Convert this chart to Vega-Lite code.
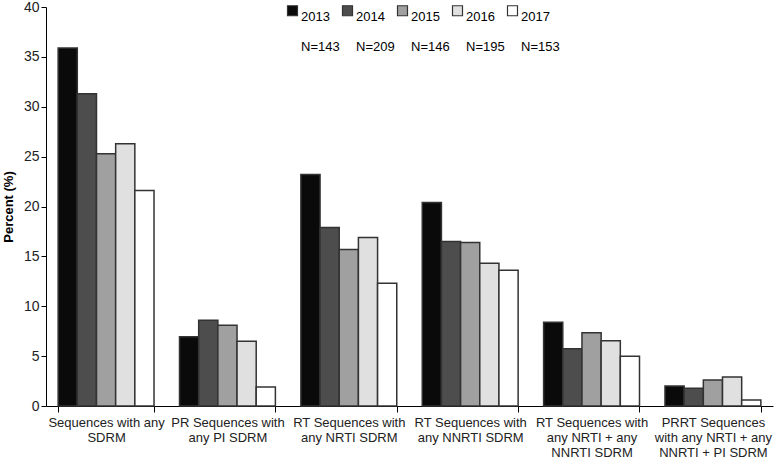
{
  "$schema": "https://vega.github.io/schema/vega-lite/v6.json",
  "autosize": {"type": "none"},
  "padding": {"left": 46, "top": 7, "right": 4, "bottom": 52},
  "width": 727,
  "height": 399,
  "background": "white",
  "config": {
    "view": {"stroke": null},
    "font": "Liberation Sans",
    "axis": {"labelFont": "Liberation Sans", "titleFont": "Liberation Sans", "domainColor": "#000", "tickColor": "#000", "labelColor": "#222", "grid": false}
  },
  "data": {
    "values": [
      {"cat": "Sequences with any SDRM", "year": "2013", "pct": 35.9},
      {"cat": "Sequences with any SDRM", "year": "2014", "pct": 31.3},
      {"cat": "Sequences with any SDRM", "year": "2015", "pct": 25.3},
      {"cat": "Sequences with any SDRM", "year": "2016", "pct": 26.3},
      {"cat": "Sequences with any SDRM", "year": "2017", "pct": 21.6},
      {"cat": "PR Sequences with any PI SDRM", "year": "2013", "pct": 6.95},
      {"cat": "PR Sequences with any PI SDRM", "year": "2014", "pct": 8.6},
      {"cat": "PR Sequences with any PI SDRM", "year": "2015", "pct": 8.1},
      {"cat": "PR Sequences with any PI SDRM", "year": "2016", "pct": 6.5},
      {"cat": "PR Sequences with any PI SDRM", "year": "2017", "pct": 1.9},
      {"cat": "RT Sequences with any NRTI SDRM", "year": "2013", "pct": 23.2},
      {"cat": "RT Sequences with any NRTI SDRM", "year": "2014", "pct": 17.9},
      {"cat": "RT Sequences with any NRTI SDRM", "year": "2015", "pct": 15.7},
      {"cat": "RT Sequences with any NRTI SDRM", "year": "2016", "pct": 16.9},
      {"cat": "RT Sequences with any NRTI SDRM", "year": "2017", "pct": 12.3},
      {"cat": "RT Sequences with any NNRTI SDRM", "year": "2013", "pct": 20.4},
      {"cat": "RT Sequences with any NNRTI SDRM", "year": "2014", "pct": 16.5},
      {"cat": "RT Sequences with any NNRTI SDRM", "year": "2015", "pct": 16.4},
      {"cat": "RT Sequences with any NNRTI SDRM", "year": "2016", "pct": 14.3},
      {"cat": "RT Sequences with any NNRTI SDRM", "year": "2017", "pct": 13.6},
      {"cat": "RT Sequences with any NRTI + any NNRTI SDRM", "year": "2013", "pct": 8.4},
      {"cat": "RT Sequences with any NRTI + any NNRTI SDRM", "year": "2014", "pct": 5.75},
      {"cat": "RT Sequences with any NRTI + any NNRTI SDRM", "year": "2015", "pct": 7.35},
      {"cat": "RT Sequences with any NRTI + any NNRTI SDRM", "year": "2016", "pct": 6.55},
      {"cat": "RT Sequences with any NRTI + any NNRTI SDRM", "year": "2017", "pct": 5.0},
      {"cat": "PRRT Sequences with any NRTI + any NNRTI + PI SDRM", "year": "2013", "pct": 2.0},
      {"cat": "PRRT Sequences with any NRTI + any NNRTI + PI SDRM", "year": "2014", "pct": 1.77},
      {"cat": "PRRT Sequences with any NRTI + any NNRTI + PI SDRM", "year": "2015", "pct": 2.6},
      {"cat": "PRRT Sequences with any NRTI + any NNRTI + PI SDRM", "year": "2016", "pct": 2.9},
      {"cat": "PRRT Sequences with any NRTI + any NNRTI + PI SDRM", "year": "2017", "pct": 0.6}
    ]
  },
  "mark": {"type": "bar", "stroke": "#333", "strokeWidth": 1.5},
  "encoding": {
    "x": {
      "field": "cat",
      "type": "nominal",
      "sort": null,
      "scale": {"paddingInner": 0.21, "paddingOuter": 0.1},
      "axis": {
        "title": null,
        "labelAngle": 0,
        "labelFontSize": 13,
        "labelLimit": 200,
        "labelOverlap": false,
        "tickBand": "extent",
        "tickSize": 6,
        "labelPadding": 4,
        "labelExpr": "datum.value == 'Sequences with any SDRM' ? ['Sequences with any', 'SDRM'] : datum.value == 'PR Sequences with any PI SDRM' ? ['PR Sequences with', 'any PI SDRM'] : datum.value == 'RT Sequences with any NRTI SDRM' ? ['RT Sequences with', 'any NRTI SDRM'] : datum.value == 'RT Sequences with any NNRTI SDRM' ? ['RT Sequences with', 'any NNRTI SDRM'] : datum.value == 'RT Sequences with any NRTI + any NNRTI SDRM' ? ['RT Sequences with', 'any NRTI + any', 'NNRTI SDRM'] : datum.value == 'PRRT Sequences with any NRTI + any NNRTI + PI SDRM' ? ['PRRT Sequences', 'with any NRTI + any', 'NNRTI + PI SDRM'] : ''"
      }
    },
    "xOffset": {"field": "year", "type": "nominal", "scale": {"paddingInner": 0, "paddingOuter": 0}},
    "y": {
      "field": "pct",
      "type": "quantitative",
      "scale": {"domain": [0, 40]},
      "axis": {
        "title": "Percent (%)",
        "titleFontSize": 13,
        "titleFontWeight": "bold",
        "titleColor": "#000",
        "titlePadding": 8,
        "values": [0, 5, 10, 15, 20, 25, 30, 35, 40],
        "labelFontSize": 14,
        "tickSize": 5
      }
    },
    "fill": {
      "field": "year",
      "type": "nominal",
      "scale": {"domain": ["2013", "2014", "2015", "2016", "2017"], "range": ["#0a0a0a", "#4d4d4d", "#a0a0a0", "#e0e0e0", "#ffffff"]},
      "legend": {
        "title": null,
        "orient": "none",
        "legendX": 240,
        "legendY": -3,
        "direction": "horizontal",
        "columns": 5,
        "symbolType": "square",
        "symbolSize": 100,
        "symbolStrokeColor": "#333",
        "symbolStrokeWidth": 1.2,
        "labelFontSize": 13,
        "labelColor": "#000",
        "labelOffset": 2,
        "columnPadding": 0,
        "labelBaseline": "top",
        "encode": {"labels": {"update": {"lineHeight": {"value": 30}}}},
        "labelExpr": "datum.label == '2013' ? ['2013', 'N=143'] : datum.label == '2014' ? ['2014', 'N=209'] : datum.label == '2015' ? ['2015', 'N=146'] : datum.label == '2016' ? ['2016', 'N=195'] : ['2017', 'N=153']"
      }
    }
  }
}
